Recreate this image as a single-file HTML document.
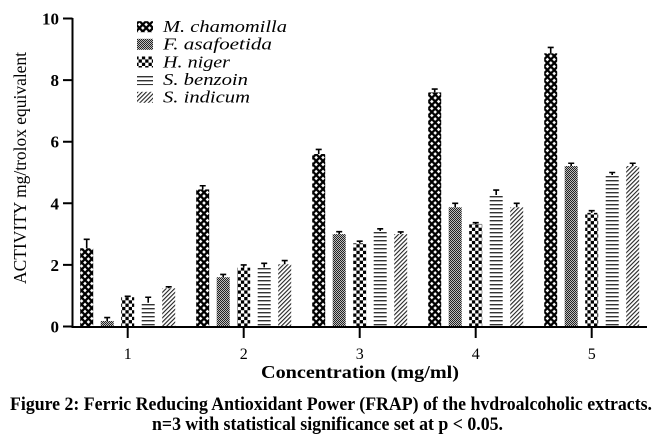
<!DOCTYPE html>
<html>
<head>
<meta charset="utf-8">
<style>
  html, body { margin:0; padding:0; background:#fff; }
  body { width:660px; height:448px; overflow:hidden; }
  svg { display:block; }
  .tk { font-family:"Liberation Serif", serif; font-weight:bold; font-size:17px; fill:#000; }
  .xt { font-family:"Liberation Serif", serif; font-size:16px; fill:#000; }
  .lg { font-family:"Liberation Serif", serif; font-style:italic; font-size:17px; fill:#000; }
</style>
</head>
<body>
<svg width="660" height="448" viewBox="0 0 660 448" xmlns="http://www.w3.org/2000/svg">
  <defs>
    <pattern id="chain" patternUnits="userSpaceOnUse" width="6.8" height="7">
      <rect width="6.8" height="7" fill="#000"/>
      <path d="M3.4 1.6 L5.2 3.5 L3.4 5.4 L1.6 3.5 Z M0 -1.9 L1.8 0 L0 1.9 L-1.8 0 Z M6.8 -1.9 L8.6 0 L6.8 1.9 L5 0 Z M0 5.1 L1.8 7 L0 8.9 L-1.8 7 Z M6.8 5.1 L8.6 7 L6.8 8.9 L5 7 Z" fill="#fff"/>
    </pattern>
    <pattern id="fine" patternUnits="userSpaceOnUse" width="2" height="2">
      <rect width="2" height="2" fill="#bdbdbd"/>
      <rect x="0" y="0" width="1" height="1" fill="#222"/>
      <rect x="1" y="1" width="1" height="1" fill="#222"/>
    </pattern>
    <pattern id="check" patternUnits="userSpaceOnUse" width="6.6" height="6.6">
      <rect width="6.6" height="6.6" fill="#fff"/>
      <rect x="0" y="0" width="3.3" height="3.3" fill="#000"/>
      <rect x="3.3" y="3.3" width="3.3" height="3.3" fill="#000"/>
    </pattern>
    <pattern id="hl" patternUnits="userSpaceOnUse" width="4" height="4">
      <rect width="4" height="4" fill="#fff"/>
      <rect x="0" y="0" width="4" height="1.4" fill="#333"/>
    </pattern>
    <pattern id="diag" patternUnits="userSpaceOnUse" width="3" height="3" patternTransform="rotate(45)">
      <rect width="3" height="3" fill="#fff"/>
      <rect x="0" y="0" width="1.1" height="3" fill="#222"/>
    </pattern>
  </defs>

  <!-- Bars -->
  <g>
    <rect x="80.2" y="248.27" width="13" height="78.23" fill="url(#chain)"/>
    <rect x="100.7" y="320.96" width="13" height="5.54" fill="url(#fine)"/>
    <rect x="121.2" y="297.24" width="13" height="29.26" fill="url(#check)"/>
    <rect x="141.7" y="302.78" width="13" height="23.72" fill="url(#hl)"/>
    <rect x="162.2" y="288.31" width="13" height="38.19" fill="url(#diag)"/>

    <rect x="196.2" y="189.44" width="13" height="137.06" fill="url(#chain)"/>
    <rect x="216.7" y="277.22" width="13" height="49.28" fill="url(#fine)"/>
    <rect x="237.2" y="267.67" width="13" height="58.83" fill="url(#check)"/>
    <rect x="257.7" y="267.36" width="13" height="59.14" fill="url(#hl)"/>
    <rect x="278.2" y="264.28" width="13" height="62.22" fill="url(#diag)"/>

    <rect x="312.2" y="154.02" width="13" height="172.48" fill="url(#chain)"/>
    <rect x="332.7" y="234.1" width="13" height="92.4" fill="url(#fine)"/>
    <rect x="353.2" y="243.34" width="13" height="83.16" fill="url(#check)"/>
    <rect x="373.7" y="231.02" width="13" height="95.48" fill="url(#hl)"/>
    <rect x="394.2" y="234.1" width="13" height="92.4" fill="url(#diag)"/>

    <rect x="428.2" y="92.42" width="13" height="234.08" fill="url(#chain)"/>
    <rect x="448.7" y="207.3" width="13" height="119.2" fill="url(#fine)"/>
    <rect x="469.2" y="223.94" width="13" height="102.56" fill="url(#check)"/>
    <rect x="489.7" y="194.98" width="13" height="131.52" fill="url(#hl)"/>
    <rect x="510.2" y="207.3" width="13" height="119.2" fill="url(#diag)"/>

    <rect x="544.2" y="53.3" width="13" height="273.2" fill="url(#chain)"/>
    <rect x="564.7" y="166.03" width="13" height="160.47" fill="url(#fine)"/>
    <rect x="585.2" y="212.85" width="13" height="113.65" fill="url(#check)"/>
    <rect x="605.7" y="174.96" width="13" height="151.54" fill="url(#hl)"/>
    <rect x="626.2" y="166.03" width="13" height="160.47" fill="url(#diag)"/>
  </g>

  <!-- Error bars -->
  <g stroke="#000" stroke-width="1.6" fill="none">
    <path d="M86.7 248.27V239.34M83.7 239.34H89.7"/>
    <path d="M107.2 320.96V317.57M104.2 317.57H110.2"/>
    <path d="M127.7 297.24V296.32M124.7 296.32H130.7"/>
    <path d="M148.2 302.78V297.24M145.2 297.24H151.2"/>
    <path d="M168.7 288.31V286.77M165.7 286.77H171.7"/>

    <path d="M202.7 189.44V185.74M199.7 185.74H205.7"/>
    <path d="M223.2 277.22V274.45M220.2 274.45H226.2"/>
    <path d="M243.7 267.67V264.9M240.7 264.9H246.7"/>
    <path d="M264.2 267.36V263.36M261.2 263.36H267.2"/>
    <path d="M284.7 264.28V260.59M281.7 260.59H287.7"/>

    <path d="M318.7 154.02V149.4M315.7 149.4H321.7"/>
    <path d="M339.2 234.1V231.64M336.2 231.64H342.2"/>
    <path d="M359.7 243.34V241.18M356.7 241.18H362.7"/>
    <path d="M380.2 231.02V228.86M377.2 228.86H383.2"/>
    <path d="M400.7 234.1V231.94M397.7 231.94H403.7"/>

    <path d="M434.7 92.42V89.03M431.7 89.03H437.7"/>
    <path d="M455.2 207.3V203.3M452.2 203.3H458.2"/>
    <path d="M475.7 223.94V222.7M472.7 222.7H478.7"/>
    <path d="M496.2 194.98V190.06M493.2 190.06H499.2"/>
    <path d="M516.7 207.3V203.3M513.7 203.3H519.7"/>

    <path d="M550.7 53.3V47.45M547.7 47.45H553.7"/>
    <path d="M571.2 166.03V163.26M568.2 163.26H574.2"/>
    <path d="M591.7 212.85V210.69M588.7 210.69H594.7"/>
    <path d="M612.2 174.96V172.5M609.2 172.5H615.2"/>
    <path d="M632.7 166.03V163.26M629.7 163.26H635.7"/>
  </g>

  <!-- Axes -->
  <g stroke="#000" stroke-width="2" fill="none">
    <path d="M72.5 18V328"/>
    <path d="M71.5 327H647"/>
    <path d="M63 326.5H72.5M63 264.9H72.5M63 203.3H72.5M63 141.7H72.5M63 80.1H72.5M63 18.5H72.5"/>
    <path d="M127.7 327V338M243.7 327V338M359.7 327V338M475.7 327V338M591.7 327V338"/>
  </g>

  <!-- Y tick labels -->
  <g class="tk" text-anchor="end">
    <text x="59" y="332.5">0</text>
    <text x="59" y="270.9">2</text>
    <text x="59" y="209.3">4</text>
    <text x="59" y="147.7">6</text>
    <text x="59" y="86.1">8</text>
    <text x="59" y="24.5">10</text>
  </g>

  <!-- X tick labels -->
  <g class="xt" text-anchor="middle">
    <text x="127.7" y="359">1</text>
    <text x="243.7" y="359">2</text>
    <text x="359.7" y="359">3</text>
    <text x="475.7" y="359">4</text>
    <text x="591.7" y="359">5</text>
  </g>

  <!-- Y axis title -->
  <text transform="translate(26,168) rotate(-90)" text-anchor="middle" font-family="Liberation Serif, serif" font-size="18" textLength="232" lengthAdjust="spacingAndGlyphs">ACTIVITY mg/trolox equivalent</text>

  <!-- X axis title -->
  <text x="261" y="378" font-family="Liberation Serif, serif" font-weight="bold" font-size="18" textLength="198" lengthAdjust="spacingAndGlyphs">Concentration (mg/ml)</text>

  <!-- Legend -->
  <rect x="137" y="21.2" width="16" height="11" fill="url(#chain)"/>
  <rect x="137" y="38.8" width="16" height="11" fill="url(#fine)"/>
  <rect x="137" y="56.5" width="16" height="11" fill="url(#check)"/>
  <rect x="137" y="74.1" width="16" height="11" fill="url(#hl)"/>
  <rect x="137" y="91.8" width="16" height="11" fill="url(#diag)"/>
  <text class="lg" x="163" y="32" textLength="124" lengthAdjust="spacingAndGlyphs">M. chamomilla</text>
  <text class="lg" x="163" y="49.6" textLength="109" lengthAdjust="spacingAndGlyphs">F. asafoetida</text>
  <text class="lg" x="163" y="67.3" textLength="67" lengthAdjust="spacingAndGlyphs">H. niger</text>
  <text class="lg" x="163" y="84.9" textLength="85" lengthAdjust="spacingAndGlyphs">S. benzoin</text>
  <text class="lg" x="163" y="102.6" textLength="87" lengthAdjust="spacingAndGlyphs">S. indicum</text>

  <!-- Caption -->
  <text x="10" y="410" font-family="Liberation Serif, serif" font-weight="bold" font-size="19" textLength="642" lengthAdjust="spacingAndGlyphs">Figure 2: Ferric Reducing Antioxidant Power (FRAP) of the hvdroalcoholic extracts.</text>
  <text x="152" y="430" font-family="Liberation Serif, serif" font-weight="bold" font-size="19" textLength="351" lengthAdjust="spacingAndGlyphs">n=3 with statistical significance set at p &lt; 0.05.</text>
</svg>
</body>
</html>
